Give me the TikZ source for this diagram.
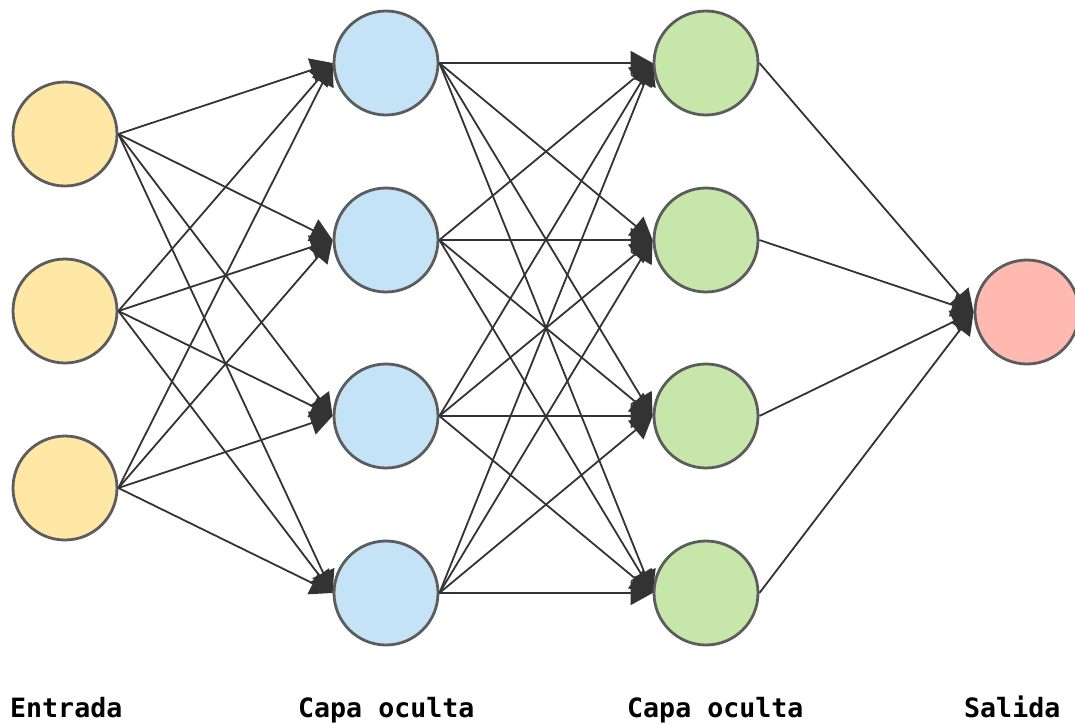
\documentclass[tikz,border=0pt]{standalone}
\usepackage{fontspec}
\newfontfamily\labelfont{DejaVu Sans Mono}
\usetikzlibrary{arrows.meta}
\definecolor{inY}{HTML}{FFE8A6}
\definecolor{hidB}{HTML}{C4E3F6}
\definecolor{hidG}{HTML}{C6E7A9}
\definecolor{outP}{HTML}{FFB9B0}
\definecolor{rim}{HTML}{5C5C5C}
\definecolor{edge}{HTML}{333333}
\tikzset{
  neuron/.style={circle, draw=rim, line width=2.8pt, minimum size=104pt, inner sep=0pt},
  conn/.style={draw=edge, line width=1.8pt, -{Triangle[length=22pt,width=24pt]}},
  lbl/.style={anchor=base west, inner sep=0pt, font=\labelfont\bfseries\fontsize{26.6}{30}\selectfont}
}
\begin{document}
\begin{tikzpicture}[x=1pt,y=-1pt]
\useasboundingbox (0,0) rectangle (1075,723);
\clip (0,0) rectangle (1075,723);
% input
\node[neuron, fill=inY] (i1) at (65,134) {};
\node[neuron, fill=inY] (i2) at (65,311) {};
\node[neuron, fill=inY] (i3) at (65,488) {};
% hidden 1
\node[neuron, fill=hidB] (a1) at (386,63) {};
\node[neuron, fill=hidB] (a2) at (386,240) {};
\node[neuron, fill=hidB] (a3) at (386,416) {};
\node[neuron, fill=hidB] (a4) at (386,593) {};
% hidden 2
\node[neuron, fill=hidG] (b1) at (706,63) {};
\node[neuron, fill=hidG] (b2) at (706,240) {};
\node[neuron, fill=hidG] (b3) at (706,416) {};
\node[neuron, fill=hidG] (b4) at (706,593) {};
% output
\node[neuron, fill=outP] (o1) at (1027,312) {};
% connectors
\foreach \s in {i1,i2,i3}{\foreach \t in {a1,a2,a3,a4}{\path[conn] (\s.east) -- (\t.west);}}
\foreach \s in {a1,a2,a3,a4}{\foreach \t in {b1,b2,b3,b4}{\path[conn] (\s.east) -- (\t.west);}}
\foreach \s in {b1,b2,b3,b4}{\path[conn] (\s.east) -- (o1.west);}
% labels
\node[lbl] (l1) at (10,717) {Entrada};
\node[lbl] (l2) at (298,717) {Capa oculta};
\node[lbl] (l3) at (627,717) {Capa oculta};
\node[lbl] (l4) at (964,717) {Salida};
\end{tikzpicture}
\end{document}
